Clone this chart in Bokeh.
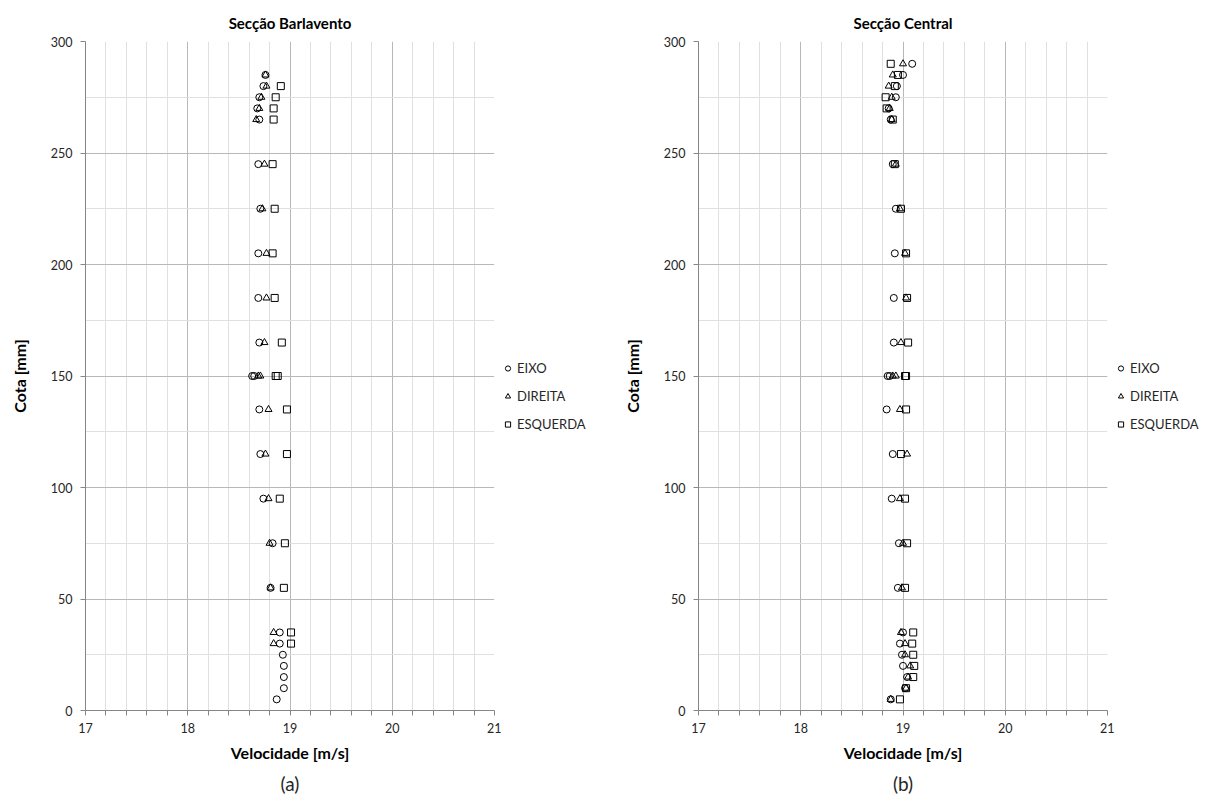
from bokeh.plotting import figure
from bokeh.models import FixedTicker, Legend, LegendItem, Title, Range1d
from bokeh.layouts import row
from bokeh.embed import file_html
from bokeh.resources import INLINE

# ---- Data: Secção Barlavento (a) ----
bar_eixo_y = [285, 280, 275, 270, 265, 245, 225, 205, 185, 165, 150, 150, 135, 115, 95, 75, 55, 35, 30, 25, 20, 15, 10, 5]
bar_eixo_v = [18.76, 18.74, 18.70, 18.68, 18.70, 18.69, 18.71, 18.69, 18.69, 18.70, 18.63, 18.65, 18.70, 18.71, 18.74, 18.83, 18.81, 18.90, 18.90, 18.93, 18.94, 18.94, 18.94, 18.87]
bar_dir_y = [285, 280, 275, 270, 265, 245, 225, 205, 185, 165, 150, 150, 135, 115, 95, 75, 55, 35, 30]
bar_dir_v = [18.76, 18.77, 18.72, 18.70, 18.67, 18.75, 18.73, 18.77, 18.77, 18.75, 18.69, 18.71, 18.79, 18.76, 18.79, 18.80, 18.81, 18.84, 18.84]
bar_esq_y = [280, 275, 270, 265, 245, 225, 205, 185, 165, 150, 150, 135, 115, 95, 75, 55, 35, 30]
bar_esq_v = [18.91, 18.86, 18.84, 18.84, 18.83, 18.85, 18.83, 18.85, 18.92, 18.86, 18.88, 18.97, 18.97, 18.90, 18.95, 18.94, 19.01, 19.01]

# ---- Data: Secção Central (b) ----
cen_y = [290, 285, 280, 275, 270, 265, 245, 225, 205, 185, 165, 150, 150, 135, 115, 95, 75, 55, 35, 30, 25, 20, 15, 10, 5]
cen_eixo_v = [19.09, 19.00, 18.94, 18.93, 18.86, 18.88, 18.90, 18.93, 18.92, 18.91, 18.91, 18.85, 18.87, 18.84, 18.90, 18.89, 18.96, 18.95, 19.00, 18.97, 18.99, 19.00, 19.04, 19.02, 18.88]
cen_dir_v = [19.00, 18.90, 18.86, 18.89, 18.87, 18.89, 18.93, 18.97, 19.02, 19.03, 18.98, 18.90, 18.93, 18.97, 19.04, 18.97, 19.00, 18.99, 18.98, 19.02, 19.02, 19.07, 19.05, 19.03, 18.88]
cen_esq_v = [18.88, 18.95, 18.92, 18.83, 18.84, 18.90, 18.92, 18.98, 19.03, 19.04, 19.05, 19.02, 19.03, 19.03, 18.98, 19.02, 19.04, 19.02, 19.10, 19.09, 19.10, 19.11, 19.10, 19.03, 18.97]

series_labels = ["EIXO", "DIREITA", "ESQUERDA"]
markers = ["circle", "triangle", "square"]
x_ticks = [17, 18, 19, 20, 21]
x_minor = [round(17 + 0.2 * i, 1) for i in range(21) if i % 5 != 0]
y_ticks = [0, 50, 100, 150, 200, 250, 300]
y_minor = [25, 75, 125, 175, 225, 275]

FONT = "Lato"
H = 792


def make(title, sub, series, bl):
    p = figure(frame_width=409, frame_height=669, x_range=Range1d(17, 21), y_range=Range1d(0, 300),
               output_backend="svg", toolbar_location=None,
               min_border_left=bl, min_border_right=7, min_border_top=41, min_border_bottom=82)
    p.outline_line_color = None
    p.background_fill_color = "white"
    p.border_fill_color = "white"

    p.title.text = title
    p.title.align = "center"
    p.title.text_font = FONT
    p.title.text_font_size = "15px"
    p.title.text_font_style = "bold"
    p.title.text_color = "#000000"
    p.title.standoff = 20

    xt = FixedTicker(ticks=x_ticks, minor_ticks=x_minor)
    yt = FixedTicker(ticks=y_ticks, minor_ticks=y_minor)
    p.xaxis.ticker = xt
    p.yaxis.ticker = yt
    p.xgrid.ticker = xt
    p.ygrid.ticker = yt
    for g in (p.xgrid, p.ygrid):
        g.grid_line_color = "#b8b8b8"
        g.grid_line_width = 1
        g.minor_grid_line_color = "#e0e0e0"
        g.minor_grid_line_width = 1

    for ax in (p.xaxis, p.yaxis):
        ax.axis_line_color = "#868686"
        ax.major_tick_line_color = "#868686"
        ax.major_tick_out = 5
        ax.major_tick_in = 0
        ax.major_label_text_font = FONT
        ax.major_label_text_font_size = "12.5px"
        ax.major_label_text_color = "#262626"
        ax.axis_label_text_font = FONT
        ax.axis_label_text_font_size = "16px"
        ax.axis_label_text_font_style = "bold"
        ax.axis_label_text_color = "#000000"
    p.xaxis.minor_tick_line_color = "#868686"
    p.xaxis.minor_tick_out = 5
    p.xaxis.minor_tick_in = 0
    p.yaxis.minor_tick_line_color = None
    p.xaxis.axis_label = "Velocidade [m/s]"
    p.yaxis.axis_label = "Cota [mm]"
    p.xaxis.major_label_standoff = 7
    p.xaxis.axis_label_standoff = 7
    p.yaxis.major_label_standoff = 8
    p.yaxis.axis_label_standoff = 19

    for (xs, ys), mk in zip(series, markers):
        p.scatter(xs, ys, marker=mk, size=7, fill_color=None, line_color="#000000", line_width=1)

    st = Title(text=sub, align="center", text_font=FONT, text_font_size="19px",
               text_font_style="normal", text_color="#262626")
    p.add_layout(st, "below")
    return p


def legend_fig(width):
    q = figure(width=width, height=H, x_range=Range1d(0, 1), y_range=Range1d(0, 1),
               x_axis_location=None, y_axis_location=None, output_backend="svg",
               toolbar_location=None, min_border=0)
    q.outline_line_color = None
    q.grid.visible = False
    items = []
    for mk, lab in zip(markers, series_labels):
        r = q.scatter([-5], [-5], marker=mk, size=6, fill_color=None, line_color="#000000", line_width=1)
        items.append(LegendItem(label=lab, renderers=[r]))
    leg = Legend(items=items, location=(0, 271), border_line_color=None,
                 background_fill_alpha=0, label_text_font=FONT, label_text_font_size="13px",
                 label_text_color="#262626", glyph_width=13, glyph_height=16,
                 label_height=16, spacing=12, padding=0, margin=0, label_standoff=3)
    q.add_layout(leg, "center")
    return q


p1 = make("Secção Barlavento", "(a)",
          [(bar_eixo_v, bar_eixo_y), (bar_dir_v, bar_dir_y), (bar_esq_v, bar_esq_y)], 85)
l1 = legend_fig(118)
p2 = make("Secção Central", "(b)",
          [(cen_eixo_v, cen_y), (cen_dir_v, cen_y), (cen_esq_v, cen_y)], 78)
l2 = legend_fig(110)

layout = row(p1, l1, p2, l2)
open("out.html", "w").write(file_html(layout, INLINE))
